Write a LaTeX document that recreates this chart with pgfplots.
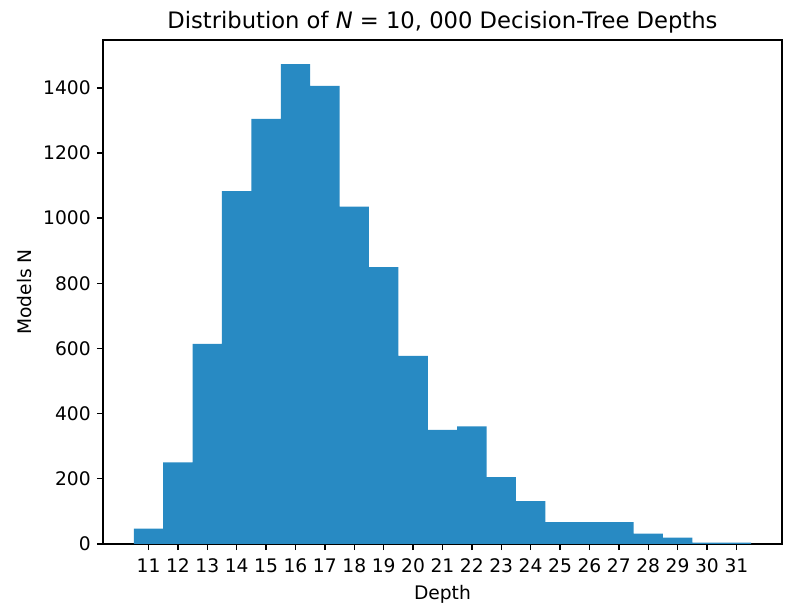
\documentclass[border=0pt]{standalone}
\usepackage{fontspec}
\setmainfont{DejaVu Sans}
\usepackage{pgfplots}
\pgfplotsset{compat=1.18}
\definecolor{barblue}{RGB}{40,138,195}
\begin{document}
\begin{tikzpicture}
\path[use as bounding box] (-59.3bp,-37.5bp) rectangle (401.5bp,313.3bp);
\begin{axis}[
  at={(0,0)}, anchor=south west,
  scale only axis,
  width=391.1bp, height=290.3bp,
  xmin=9.45, xmax=32.55,
  ymin=0, ymax=1547,
  xtick={11,...,31},
  ytick={0,200,...,1400},
  tick align=outside,
  xtick pos=bottom, ytick pos=left,
  major tick length=3.5bp,
  every tick/.style={black, line width=0.8pt},
  axis line style={black, line width=0.8pt},
  tick label style={font=\fontsize{10.8}{12}\selectfont},
  xticklabel style={yshift=-1.5bp},
  /pgf/number format/assume math mode=true,
  /pgf/number format/1000 sep={},
  scaled y ticks=false,
  xlabel={Depth},
  ylabel={Models N},
  xlabel style={yshift=-0.5bp},
  label style={font=\fontsize{10.8}{12}\selectfont},
  title={Distribution of \textit{N} = 10, 000 Decision-Tree Depths},
  title style={font=\fontsize{13.1}{15}\selectfont, yshift=-5.5bp},
]
\addplot[ybar interval, fill=barblue, draw=none] coordinates {
(10.5,47) (11.5,250) (12.5,614) (13.5,1083) (14.5,1305) (15.5,1473) (16.5,1406)
(17.5,1035) (18.5,850) (19.5,577) (20.5,350) (21.5,361) (22.5,205) (23.5,131)
(24.5,67) (25.5,67) (26.5,67) (27.5,32) (28.5,19) (29.5,4) (30.5,4) (31.5,4)
};
\end{axis}
\end{tikzpicture}
\end{document}
